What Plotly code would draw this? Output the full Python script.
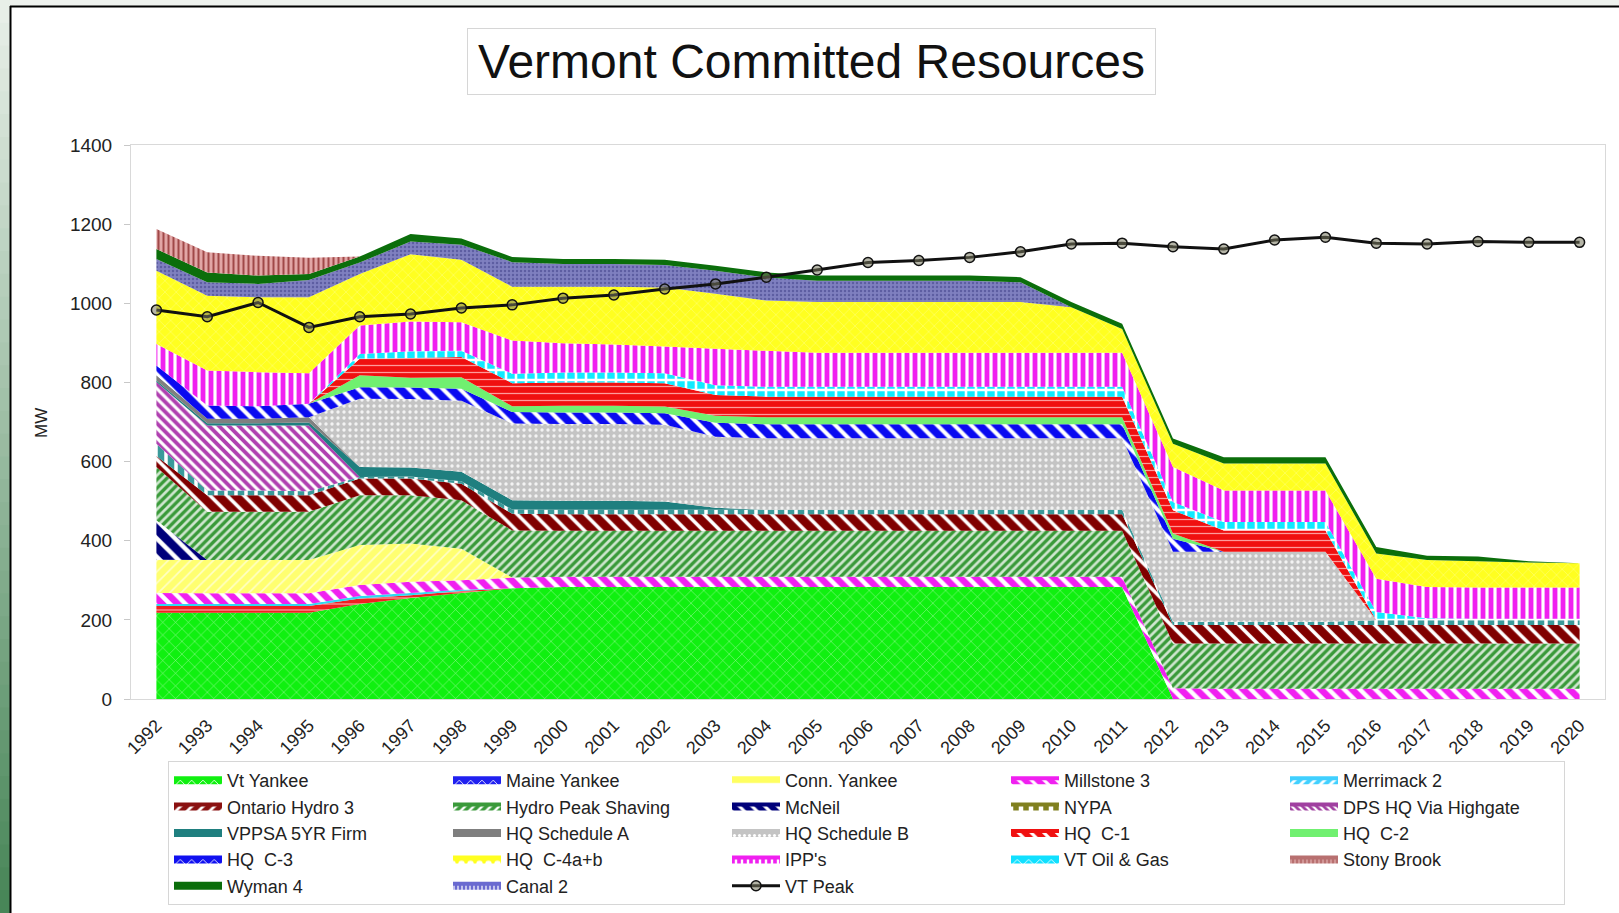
import plotly.graph_objects as go

W, H = 1619, 913
ML, MR, MT, MB = 131, 14, 145, 214
PW, PH = W - ML - MR, H - MT - MB

years = ["1992", "1993", "1994", "1995", "1996", "1997", "1998", "1999", "2000", "2001",
         "2002", "2003", "2004", "2005", "2006", "2007", "2008", "2009", "2010", "2011",
         "2012", "2013", "2014", "2015", "2016", "2017", "2018", "2019", "2020"]

vt_yankee    = [218, 218, 218, 218, 240, 255, 268, 280, 283, 283, 283, 283, 283, 283, 283, 283, 283, 283, 283, 283, 0, 0, 0, 0, 0, 0, 0, 0, 0]
maine_yankee = [17, 17, 17, 17, 14, 7, 5, 0, 0, 0, 0, 0, 0, 0, 0, 0, 0, 0, 0, 0, 0, 0, 0, 0, 0, 0, 0, 0, 0]
merrimack_2  = [5, 5, 5, 5, 6, 6, 3, 0, 0, 0, 0, 0, 0, 0, 0, 0, 0, 0, 0, 0, 0, 0, 0, 0, 0, 0, 0, 0, 0]
millstone_3  = [28, 27, 27, 27, 28, 28, 24, 27, 26, 26, 26, 26, 26, 26, 26, 26, 26, 26, 26, 26, 27, 26, 26, 26, 26, 26, 26, 26, 26]
conn_yankee  = [84, 84, 84, 84, 101, 97, 80, 0, 0, 0, 0, 0, 0, 0, 0, 0, 0, 0, 0, 0, 0, 0, 0, 0, 0, 0, 0, 0, 0]
mcneil       = [100, 0, 0, 0, 0, 0, 0, 0, 0, 0, 0, 0, 0, 0, 0, 0, 0, 0, 0, 0, 0, 0, 0, 0, 0, 0, 0, 0, 0]
hydro_peak   = [134, 122, 122, 122, 126, 122, 122, 119, 116, 116, 116, 116, 116, 116, 116, 116, 116, 116, 116, 116, 113, 114, 114, 114, 114, 114, 114, 114, 114]
ontario_3    = [28, 42, 42, 42, 42, 42, 42, 42, 42, 42, 42, 42, 42, 42, 42, 42, 42, 42, 42, 42, 47, 47, 47, 47, 47, 47, 47, 47, 47]
nypa         = [31, 12, 12, 10, 4, 5, 6, 11, 11, 11, 11, 11, 11, 11, 11, 11, 11, 11, 11, 11, 8, 8, 8, 8, 12, 12, 12, 12, 12]
dps_highgate = [156, 164, 164, 166, 0, 0, 0, 0, 0, 0, 0, 0, 0, 0, 0, 0, 0, 0, 0, 0, 0, 0, 0, 0, 0, 0, 0, 0, 0]
vppsa_firm   = [4, 6, 6, 8, 25, 23, 24, 23, 23, 23, 21, 5, 0, 0, 0, 0, 0, 0, 0, 0, 0, 0, 0, 0, 0, 0, 0, 0, 0]
hq_sched_a   = [13, 11, 11, 13, 0, 0, 0, 0, 0, 0, 0, 0, 0, 0, 0, 0, 0, 0, 0, 0, 0, 0, 0, 0, 0, 0, 0, 0, 0]
hq_sched_b   = [0, 0, 0, 0, 173, 173, 180, 194, 194, 194, 194, 180, 181, 181, 181, 181, 181, 181, 181, 181, 177, 177, 177, 177, 0, 0, 0, 0, 0]
hq_c3        = [25, 34, 32, 34, 29, 29, 30, 29, 29, 29, 29, 35, 35, 35, 35, 35, 35, 35, 35, 35, 33, 0, 0, 0, 0, 0, 0, 0, 0]
hq_c2        = [0, 0, 0, 0, 30, 25, 29, 15, 17, 17, 17, 18, 18, 18, 18, 18, 18, 18, 18, 18, 13, 0, 0, 0, 0, 0, 0, 0, 0]
hq_c1        = [0, 0, 0, 0, 42, 50, 51, 58, 59, 59, 59, 52, 52, 52, 52, 52, 52, 52, 52, 52, 59, 54, 54, 54, 0, 0, 0, 0, 0]
vt_oil_gas   = [0, 0, 0, 0, 12, 17, 16, 24, 25, 25, 25, 25, 25, 25, 25, 25, 25, 25, 25, 25, 21, 21, 21, 21, 21, 5, 4, 4, 4]
ipps         = [54, 88, 86, 77, 72, 75, 72, 84, 74, 71, 68, 92, 91, 86, 86, 86, 86, 86, 86, 86, 88, 80, 80, 80, 84, 79, 79, 79, 79]
hq_c4ab      = [185, 189, 189, 192, 130, 170, 158, 136, 143, 146, 149, 139, 127, 128, 128, 128, 128, 128, 115, 60, 59, 68, 68, 68, 64, 68, 66, 63, 61]
canal_2      = [30, 34, 34, 44, 29, 32, 38, 62, 57, 57, 57, 58, 58, 54, 54, 54, 54, 50, 0, 0, 0, 0, 0, 0, 0, 0, 0, 0, 0]
wyman_4      = [25, 25, 21, 15, 15, 19, 16, 13, 13, 13, 13, 13, 13, 13, 13, 13, 13, 13, 13, 13, 13, 16, 16, 16, 16, 11, 12, 3, 0]
stony_brook  = [51, 51, 50, 41, 0, 0, 0, 0, 0, 0, 0, 0, 0, 0, 0, 0, 0, 0, 0, 0, 0, 0, 0, 0, 0, 0, 0, 0, 0]
vt_peak      = [983, 966, 1002, 939, 966, 973, 988, 996, 1013, 1021, 1036, 1049, 1066, 1084, 1103, 1108, 1116, 1130, 1150, 1152, 1143, 1137, 1160, 1167, 1152, 1150, 1156, 1154, 1154]

# stacking order in the chart, bottom to top
stack = [
    ("Vt Yankee", vt_yankee), ("Maine Yankee", maine_yankee), ("Merrimack 2", merrimack_2),
    ("Millstone 3", millstone_3), ("Conn. Yankee", conn_yankee), ("McNeil", mcneil),
    ("Hydro Peak Shaving", hydro_peak), ("Ontario Hydro 3", ontario_3), ("NYPA", nypa),
    ("DPS HQ Via Highgate", dps_highgate), ("VPPSA 5YR Firm", vppsa_firm), ("HQ Schedule A", hq_sched_a),
    ("HQ Schedule B", hq_sched_b), ("HQ  C-3", hq_c3), ("HQ  C-2", hq_c2), ("HQ  C-1", hq_c1),
    ("VT Oil & Gas", vt_oil_gas), ("IPP's", ipps), ("HQ  C-4a+b", hq_c4ab), ("Canal 2", canal_2),
    ("Wyman 4", wyman_4), ("Stony Brook", stony_brook),
]

# (bgcolor, pattern shape, fgcolor, size, solidity) for bands in the plot
band_style = {
    "Vt Yankee": ("#10f010", "x", "rgba(255,255,255,0.55)", 9, 0.12),
    "Maine Yankee": ("#f02020", "-", "rgba(255,255,255,0.6)", 6, 0.2),
    "Merrimack 2": ("#30d8f0", "", None, 0, 0),
    "Millstone 3": ("#f020f0", "\\", "white", 11, 0.4),
    "Conn. Yankee": ("#ffff70", "/", "rgba(255,255,255,0.6)", 8, 0.2),
    "McNeil": ("#00007a", "\\", "white", 13, 0.35),
    "Hydro Peak Shaving": ("#3a9a3a", "/", "rgba(255,255,255,0.75)", 6, 0.45),
    "Ontario Hydro 3": ("#800000", "\\", "white", 12, 0.3),
    "NYPA": ("#3a9a9a", "|", "white", 10, 0.35),
    "DPS HQ Via Highgate": ("#b040b0", "\\", "white", 7, 0.45),
    "VPPSA 5YR Firm": ("#1f7f7f", "", None, 0, 0),
    "HQ Schedule A": ("#7f8080", "", None, 0, 0),
    "HQ Schedule B": ("#c4c4c4", ".", "rgba(255,255,255,0.8)", 6, 0.25),
    "HQ  C-3": ("#0a0af0", "\\", "white", 12, 0.35),
    "HQ  C-2": ("#70f070", "", None, 0, 0),
    "HQ  C-1": ("#f01010", "-", "rgba(255,170,170,0.9)", 7, 0.18),
    "VT Oil & Gas": ("#10eaff", "+", "white", 10, 0.45),
    "IPP's": ("#f020f0", "|", "white", 8, 0.4),
    "HQ  C-4a+b": ("#ffff20", "x", "rgba(255,255,255,0.35)", 8, 0.15),
    "Canal 2": ("#7f80c0", ".", "rgba(70,70,140,0.6)", 4, 0.3),
    "Wyman 4": ("#0b6e0b", "", None, 0, 0),
    "Stony Brook": ("#e2a6a6", "|", "#a04848", 5, 0.4),
}

# legend swatches (as drawn in the legend box)
legend_style = {
    "Vt Yankee": ("#10f010", "x", "white", 8, 0.2),
    "Maine Yankee": ("#2020f0", "x", "white", 8, 0.2),
    "Conn. Yankee": ("#ffff60", "-", "white", 8, 0.3),
    "Millstone 3": ("#f020f0", "\\", "white", 9, 0.35),
    "Merrimack 2": ("#40d0ff", "/", "white", 7, 0.4),
    "Ontario Hydro 3": ("#8a1010", "/", "white", 8, 0.35),
    "Hydro Peak Shaving": ("#3a9a3a", "/", "white", 6, 0.4),
    "McNeil": ("#00007a", "\\", "white", 9, 0.35),
    "NYPA": ("#808020", "|", "white", 10, 0.45),
    "DPS HQ Via Highgate": ("#a040a0", "\\", "white", 5, 0.45),
    "VPPSA 5YR Firm": ("#1f7f7f", "", None, 0, 0),
    "HQ Schedule A": ("#7f7f7f", "", None, 0, 0),
    "HQ Schedule B": ("#c4c4c4", ".", "white", 5, 0.3),
    "HQ  C-1": ("#f01010", "\\", "white", 9, 0.35),
    "HQ  C-2": ("#70f070", "", None, 0, 0),
    "HQ  C-3": ("#1010f0", "x", "white", 8, 0.2),
    "HQ  C-4a+b": ("#ffff20", ".", "white", 9, 0.4),
    "IPP's": ("#f020f0", "|", "white", 6, 0.4),
    "VT Oil & Gas": ("#10e0ff", "x", "white", 8, 0.2),
    "Stony Brook": ("#b87070", "|", "#d8a0a0", 4, 0.4),
    "Wyman 4": ("#0b6e0b", "", None, 0, 0),
    "Canal 2": ("#6a6ad0", "|", "white", 4, 0.3),
}

legend_order = ["Vt Yankee", "Maine Yankee", "Conn. Yankee", "Millstone 3", "Merrimack 2",
                "Ontario Hydro 3", "Hydro Peak Shaving", "McNeil", "NYPA", "DPS HQ Via Highgate",
                "VPPSA 5YR Firm", "HQ Schedule A", "HQ Schedule B", "HQ  C-1", "HQ  C-2",
                "HQ  C-3", "HQ  C-4a+b", "IPP's", "VT Oil & Gas", "Stony Brook",
                "Wyman 4", "Canal 2", "VT Peak"]

FONT = "Liberation Sans, Arial, sans-serif"


def pattern(st):
    bg, shape, fg, size, sol = st
    if not shape:
        return None
    return dict(shape=shape, bgcolor=bg, fgcolor=fg, size=size, solidity=sol, fillmode="replace")


fig = go.Figure()

for name, vals in stack:
    st = band_style[name]
    fig.add_trace(go.Scatter(
        x=years, y=vals, name=name, stackgroup="res", mode="none",
        fillcolor=st[0], fillpattern=pattern(st), showlegend=False,
    ))

peak_marker = dict(symbol="circle", size=10, color="rgba(120,120,95,0.55)",
                   line=dict(color="#111111", width=1.5))
fig.add_trace(go.Scatter(
    x=years, y=vt_peak, name="VT Peak", mode="lines+markers",
    line=dict(color="#111111", width=3), marker=peak_marker, showlegend=False,
))

# legend entries
for name in legend_order:
    if name == "VT Peak":
        fig.add_trace(go.Scatter(x=[None], y=[None], name=name, mode="lines+markers",
                                 line=dict(color="#111111", width=3), marker=peak_marker))
    else:
        st = legend_style[name]
        fig.add_trace(go.Scatter(x=[None], y=[None], name=name, mode="lines", fill="toself",
                                 line=dict(color=st[0], width=4),
                                 fillcolor=st[0], fillpattern=pattern(st)))


def px_x(px):
    return (px - ML) / PW


def px_y(py):
    return (H - MB - py) / PH


shapes = []
# page frame: light strip on top, green gradient strip on the left
shapes.append(dict(type="rect", xref="paper", yref="paper", x0=px_x(0), x1=px_x(W),
                   y0=px_y(0), y1=px_y(6), fillcolor="#eef2ee", line=dict(width=0), layer="below"))
n = 40
c0, c1 = (232, 239, 232), (72, 134, 88)
for i in range(n):
    t = i / (n - 1)
    col = "rgb(%d,%d,%d)" % tuple(int(a + (b - a) * t) for a, b in zip(c0, c1))
    shapes.append(dict(type="rect", xref="paper", yref="paper", x0=px_x(0), x1=px_x(10),
                       y0=px_y(H * i / n), y1=px_y(H * (i + 1) / n + 1),
                       fillcolor=col, line=dict(width=0), layer="below"))
shapes.append(dict(type="line", xref="paper", yref="paper", x0=px_x(10.5), x1=px_x(10.5),
                   y0=px_y(6), y1=px_y(H), line=dict(color="#000000", width=2), layer="below"))
shapes.append(dict(type="line", xref="paper", yref="paper", x0=px_x(10), x1=px_x(W),
                   y0=px_y(6.5), y1=px_y(6.5), line=dict(color="#000000", width=2), layer="below"))

annotations = [
    dict(text="Vermont Committed Resources", xref="paper", yref="paper",
         x=px_x(811.5), y=px_y(61.5), xanchor="center", yanchor="middle", showarrow=False,
         font=dict(family=FONT, size=48, color="#111111"),
         bordercolor="#d6d6d6", borderwidth=1, borderpad=0, bgcolor="white",
         width=687, height=65),
    dict(text="MW", xref="paper", yref="paper", x=px_x(41), y=px_y(423),
         xanchor="center", yanchor="middle", showarrow=False, textangle=-90,
         font=dict(family=FONT, size=17, color="#222222")),
]

fig.update_layout(
    width=W, height=H,
    margin=dict(l=ML, r=MR, t=MT, b=MB, autoexpand=False),
    paper_bgcolor="white", plot_bgcolor="white",
    font=dict(family=FONT, color="#222222"),
    showlegend=True,
    legend=dict(orientation="h", x=px_x(168), y=px_y(761), xanchor="left", yanchor="top",
                entrywidth=216, entrywidthmode="pixels", itemwidth=48,
                font=dict(family=FONT, size=18, color="#222222"),
                bordercolor="#d6d6d6", borderwidth=1, bgcolor="white",
                traceorder="normal", itemclick=False, itemdoubleclick=False),
    shapes=shapes, annotations=annotations,
    hovermode=False,
)

fig.update_xaxes(type="category", range=[-0.5, 28.5], tickangle=-45, showgrid=False,
                 showline=True, linecolor="#d9d9d9", mirror=True, ticks="",
                 ticklabelstandoff=8, tickfont=dict(family=FONT, size=18, color="#222222"))
fig.update_yaxes(range=[0, 1400], tickvals=[0, 200, 400, 600, 800, 1000, 1200, 1400],
                 showgrid=False, zeroline=False, showline=True, linecolor="#d9d9d9", mirror=True,
                 ticks="outside", ticklen=6, tickcolor="#c8c8c8", ticklabelstandoff=8,
                 tickfont=dict(family=FONT, size=19, color="#222222"))

fig.write_html("out.html")
